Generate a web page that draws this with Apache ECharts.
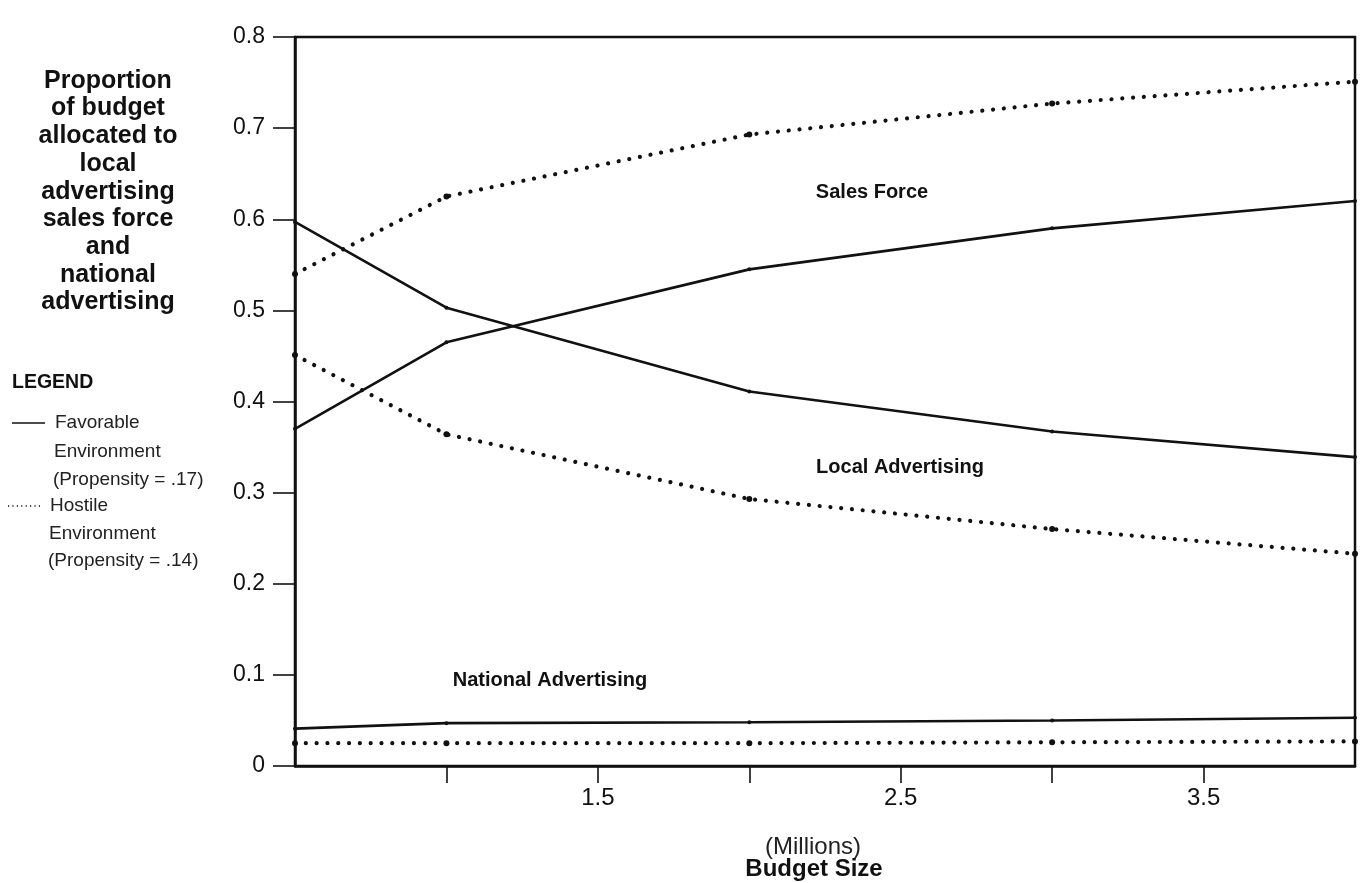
<!DOCTYPE html>
<html><head><meta charset="utf-8">
<script src="https://cdn.jsdelivr.net/npm/echarts@6/dist/echarts.min.js"></script>
<style>html,body{margin:0;padding:0;background:#fff}#c{width:1369px;height:883px}</style>
</head><body><div id="c"></div>
<script>
// Budget size (millions)
const budgetSizes = [0.5, 1.0, 2.0, 3.0, 4.0];
// Favorable environment (solid)
const salesForceFavorable = [0.37, 0.465, 0.545, 0.59, 0.62];
const localAdvFavorable = [0.597, 0.503, 0.411, 0.367, 0.339];
const nationalAdvFavorable = [0.041, 0.047, 0.048, 0.050, 0.053];
// Hostile environment (dotted)
const salesForceHostile = [0.54, 0.625, 0.693, 0.727, 0.751];
const localAdvHostile = [0.451, 0.364, 0.293, 0.26, 0.233];
const nationalAdvHostile = [0.025, 0.025, 0.025, 0.026, 0.027];
// Axis ticks
const xTickValues = [1, 1.5, 2, 2.5, 3, 3.5];
const xLabelValues = [1.5, 2.5, 3.5];

const FONT = '"Liberation Sans", Arial, Helvetica, sans-serif';
const INK = '#111';

function pts(arr){ return budgetSizes.map((x,i)=>[x, arr[i]]); }
function solid(name, arr){
  return {name, type:'line', data:pts(arr), symbol:'circle', symbolSize:4,
    itemStyle:{color:INK}, lineStyle:{color:INK, width:2.6}, animation:false, z:3};
}
function dotted(name, arr){
  return {name, type:'line', data:pts(arr), symbol:'circle', symbolSize:6,
    itemStyle:{color:INK}, lineStyle:{color:INK, width:4.2, type:[0.01, 10.8], cap:'round'}, animation:false, z:3};
}

const chart = echarts.init(document.getElementById('c'), null, {renderer:'canvas'});
chart.setOption({
  backgroundColor:'#fff',
  animation:false,
  grid:{left:295, right:14, top:37, bottom:117, show:true, borderColor:INK, borderWidth:2.5, backgroundColor:'transparent'},
  xAxis:{type:'value', min:0.5, max:4, interval:0.5,
    axisLine:{show:true, onZero:false, lineStyle:{color:INK, width:2.5}},
    axisTick:{show:true, length:17, customValues:xTickValues, lineStyle:{color:INK, width:1.6}},
    axisLabel:{show:true, customValues:xLabelValues, fontSize:24, color:INK, fontFamily:FONT, margin:20,
      formatter:v=>String(v)},
    splitLine:{show:false}},
  yAxis:{type:'value', min:0, max:0.8, interval:0.1,
    axisLine:{show:true, lineStyle:{color:INK, width:2.5}},
    axisTick:{show:true, length:22, lineStyle:{color:INK, width:1.6}},
    axisLabel:{fontSize:23, color:INK, fontFamily:FONT, margin:30,
      formatter:v=>String(Math.round(v*10)/10)},
    splitLine:{show:false}},
  series:[
    solid('Sales Force (Favorable)', salesForceFavorable),
    solid('Local Advertising (Favorable)', localAdvFavorable),
    solid('National Advertising (Favorable)', nationalAdvFavorable),
    dotted('Sales Force (Hostile)', salesForceHostile),
    dotted('Local Advertising (Hostile)', localAdvHostile),
    dotted('National Advertising (Hostile)', nationalAdvHostile)
  ],
  graphic:[
    {type:'text', style:{x:108, y:67, text:'Proportion\nof budget\nallocated to\nlocal\nadvertising\nsales force\nand\nnational\nadvertising',
      align:'center', verticalAlign:'top', fontSize:25, fontWeight:'bold', fontFamily:FONT, lineHeight:27.7, fill:INK}},
    {type:'text', style:{x:12, y:383, text:'LEGEND', verticalAlign:'middle', fontSize:19.5, fontWeight:'bold', fontFamily:FONT, fill:INK}},
    {type:'line', shape:{x1:12, y1:423, x2:45, y2:423}, style:{stroke:INK, lineWidth:1.4}},
    {type:'text', style:{x:55, y:423, text:'Favorable', verticalAlign:'middle', fontSize:19, fontFamily:FONT, fill:'#222'}},
    {type:'text', style:{x:54, y:452, text:'Environment', verticalAlign:'middle', fontSize:19, fontFamily:FONT, fill:'#222'}},
    {type:'text', style:{x:53, y:480, text:'(Propensity = .17)', verticalAlign:'middle', fontSize:19, fontFamily:FONT, fill:'#222'}},
    {type:'line', shape:{x1:8, y1:506, x2:40, y2:506}, style:{stroke:INK, lineWidth:1.4, lineDash:[1.2, 3.2]}},
    {type:'text', style:{x:50, y:506, text:'Hostile', verticalAlign:'middle', fontSize:19, fontFamily:FONT, fill:'#222'}},
    {type:'text', style:{x:49, y:534, text:'Environment', verticalAlign:'middle', fontSize:19, fontFamily:FONT, fill:'#222'}},
    {type:'text', style:{x:48, y:561, text:'(Propensity = .14)', verticalAlign:'middle', fontSize:19, fontFamily:FONT, fill:'#222'}},
    {type:'text', style:{x:872, y:192, text:'Sales Force', align:'center', verticalAlign:'middle', fontSize:20, fontWeight:'bold', fontFamily:FONT, fill:INK}},
    {type:'text', style:{x:900, y:467, text:'Local Advertising', align:'center', verticalAlign:'middle', fontSize:20, fontWeight:'bold', fontFamily:FONT, fill:INK}},
    {type:'text', style:{x:550, y:680, text:'National Advertising', align:'center', verticalAlign:'middle', fontSize:20, fontWeight:'bold', fontFamily:FONT, fill:INK}},
    {type:'text', style:{x:813, y:847, text:'(Millions)', align:'center', verticalAlign:'middle', fontSize:24, fontFamily:FONT, fill:'#222'}},
    {type:'text', style:{x:814, y:869, text:'Budget Size', align:'center', verticalAlign:'middle', fontSize:24, fontWeight:'bold', fontFamily:FONT, fill:INK}}
  ]
});
</script>
</body></html>
